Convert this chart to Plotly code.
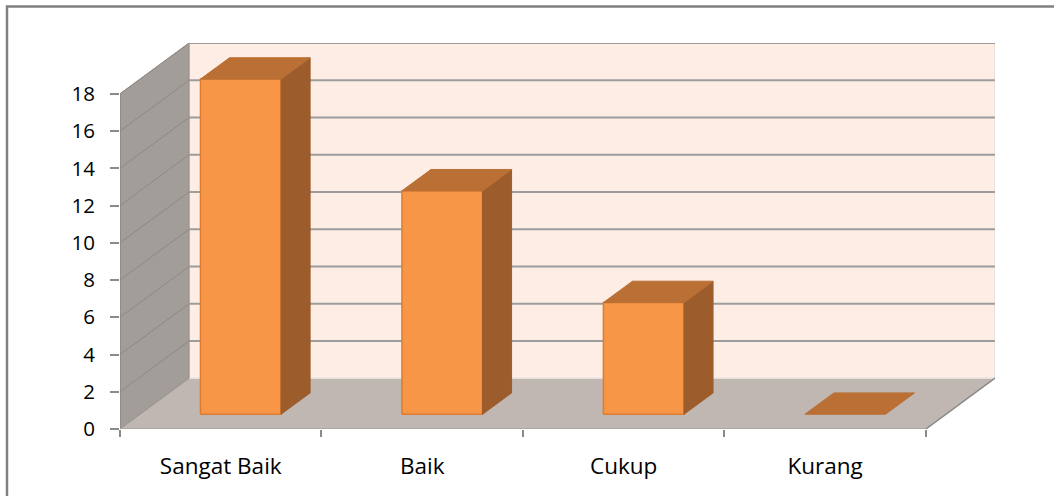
import plotly.graph_objects as go

# Data
categories = ["Sangat Baik", "Baik", "Cukup", "Kurang"]
values = [18, 12, 6, 0]
y_ticks = [0, 2, 4, 6, 8, 10, 12, 14, 16, 18]

# 3-D look: oblique projection of (category, value, depth) onto the 2-D axes
DX = 0.343   # horizontal shift of the back plane, in category units
DY = 2.73    # vertical shift of the back plane, in value units
Y_MAX = 18
X_LO, X_HI = -0.5, len(categories) - 0.5
BAR_HALF = 0.2
Z_FRONT, Z_BACK = 0.29, 0.71


def proj(x, y, z):
    return x + z * DX, y + z * DY


def poly(points, fill, line_color, line_width=1):
    xs, ys = zip(*[proj(*p) for p in points])
    xs = list(xs) + [xs[0]]
    ys = list(ys) + [ys[0]]
    return go.Scatter(x=xs, y=ys, mode="lines", fill="toself", fillcolor=fill,
                      line=dict(color=line_color, width=line_width),
                      hoverinfo="skip", showlegend=False)


def seg(p, q, color, width):
    (x0, y0), (x1, y1) = proj(*p), proj(*q)
    return go.Scatter(x=[x0, x1], y=[y0, y1], mode="lines",
                      line=dict(color=color, width=width),
                      hoverinfo="skip", showlegend=False)


fig = go.Figure()

# floor
fig.add_trace(poly([(X_LO, 0, 0), (X_HI, 0, 0), (X_HI, 0, 1), (X_LO, 0, 1)],
                   "#C0B6B2", "#B3AAA6", 1))
# back wall
fig.add_trace(poly([(X_LO, 0, 1), (X_HI, 0, 1), (X_HI, Y_MAX, 1), (X_LO, Y_MAX, 1)],
                   "#FDEDE5", "#E6E0DC", 1.5))
# side wall
fig.add_trace(poly([(X_LO, 0, 0), (X_LO, 0, 1), (X_LO, Y_MAX, 1), (X_LO, Y_MAX, 0)],
                   "#A39D99", "#9A9490", 1))

# gridlines on the walls
for v in y_ticks[1:]:
    fig.add_trace(seg((X_LO, v, 1), (X_HI, v, 1), "#9C9C9C", 2))
    fig.add_trace(seg((X_LO, v, 0), (X_LO, v, 1), "#8E8884", 1))

# value axis line on the front edge of the side wall
fig.add_trace(seg((X_LO, 0, 0), (X_LO, Y_MAX, 0), "#8A8A8A", 1.5))
# front edge of the floor
fig.add_trace(seg((X_LO, 0, 0), (X_HI, 0, 0), "#A8A8A8", 1.5))
# right front edge of the floor
fig.add_trace(seg((X_HI, 0, 0), (X_HI, 0, 1), "#8A8A8A", 1.5))

# bars
for i, v in enumerate(values):
    x0, x1 = i - BAR_HALF, i + BAR_HALF
    if v > 0:
        # front face
        fig.add_trace(poly([(x0, 0, Z_FRONT), (x1, 0, Z_FRONT), (x1, v, Z_FRONT), (x0, v, Z_FRONT)],
                           "#F79646", "#DD7B30", 1.5))
        # right face
        fig.add_trace(poly([(x1, 0, Z_FRONT), (x1, 0, Z_BACK), (x1, v, Z_BACK), (x1, v, Z_FRONT)],
                           "#9C5C2B", "#9C5C2B", 1))
    # top face
    fig.add_trace(poly([(x0, v, Z_FRONT), (x1, v, Z_FRONT), (x1, v, Z_BACK), (x0, v, Z_BACK)],
                       "#BA7034", "#BA7034", 1))

fig.update_layout(
    width=1054, height=496,
    margin=dict(l=120, r=59, t=43, b=67),
    paper_bgcolor="white", plot_bgcolor="white",
    font=dict(family="Open Sans", size=20, color="#000000"),
    showlegend=False,
    xaxis=dict(range=[X_LO, X_HI + DX], showgrid=False, zeroline=False, showline=False,
               tickvals=list(range(len(categories))), ticktext=categories,
               tickfont=dict(size=22.5),
               ticks="outside", ticklen=0, ticklabelstandoff=17,
               minor=dict(tickvals=[X_LO + k for k in range(len(categories) + 1)],
                          ticks="outside", ticklen=7, tickcolor="#8A8A8A", tickwidth=1.5,
                          showgrid=False),
               fixedrange=True),
    yaxis=dict(range=[0, Y_MAX + DY], showgrid=False, zeroline=False, showline=False,
               tickvals=y_ticks, ticks="outside", ticklen=9, tickcolor="#8A8A8A", tickwidth=1.5,
               tickfont=dict(size=20.5), ticklabelstandoff=11, fixedrange=True),
    shapes=[dict(type="rect", xref="paper", yref="paper", layer="above",
                 x0=(7 - 120) / 875, x1=1.2, y0=-0.3, y1=1 + (43 - 6.5) / 386,
                 line=dict(color="#808080", width=2.5), fillcolor="rgba(0,0,0,0)")],
)

fig.write_html("out.html")
